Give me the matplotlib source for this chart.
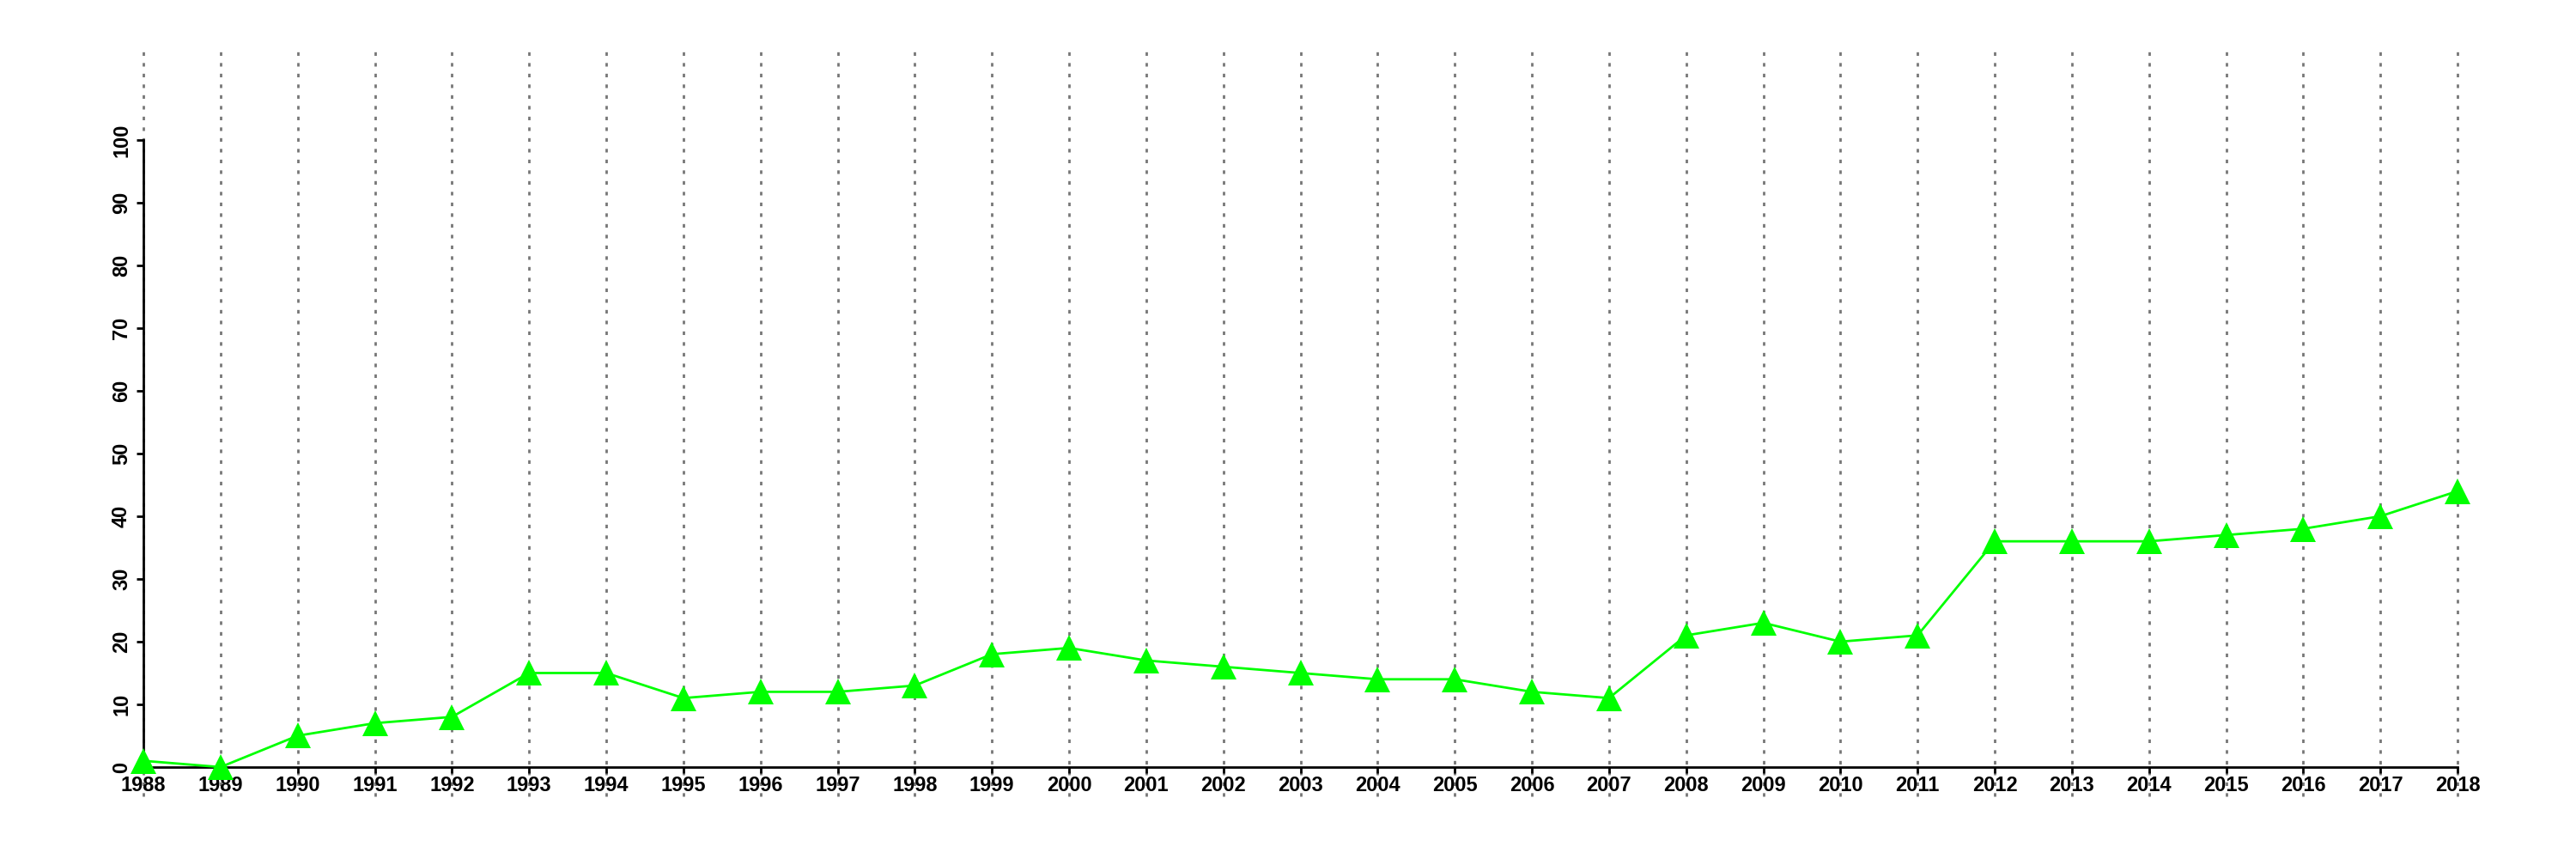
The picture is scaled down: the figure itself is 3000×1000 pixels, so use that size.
import matplotlib
matplotlib.use("Agg")
from matplotlib import pyplot as plt

years = list(range(1988, 2019))
values = [1, 0, 5, 7, 8, 15, 15, 11, 12, 12, 13, 18, 19, 17, 16, 15, 14, 14,
          12, 11, 21, 23, 20, 21, 36, 36, 36, 37, 38, 40, 44]
yticks = list(range(0, 101, 10))

plt.rcParams['font.family'] = ['Liberation Sans', 'DejaVu Sans']
plt.rcParams['font.weight'] = 'bold'

fig = plt.figure(figsize=(30, 10), dpi=100)
ax = fig.add_axes([167 / 3000, 0.073, (2862 - 167) / 3000, 0.867])
ax.set_xlim(1988, 2018)
ax.set_ylim(-4.66, 114.1)

# dotted verticals at each year
for yr in years:
    ax.axvline(yr, color='#777777', lw=2, ls=(0, (1.5, 3)), zorder=1,
               clip_on=False)

ax.plot(years, values, color='#00ff00', lw=2, marker='^', ms=21,
        markeredgewidth=0, clip_on=False, zorder=3)

for s in ['top', 'right']:
    ax.spines[s].set_visible(False)
ax.spines['left'].set_bounds(0, 100)
ax.spines['bottom'].set_position(('data', 0))
ax.spines['bottom'].set_bounds(1988, 2018)
ax.spines['left'].set_linewidth(2)
ax.spines['bottom'].set_linewidth(2)

ax.set_xticks(years)
ax.set_xticklabels([str(y) for y in years])
ax.set_yticks(yticks)
ax.set_yticklabels([str(v) for v in yticks], rotation=90, va='center')
ax.tick_params(axis='x', length=5, width=2, pad=2, labelsize=17)
ax.tick_params(axis='y', length=6, width=2, pad=4, labelsize=17)

fig.savefig('out.png', dpi=100)
